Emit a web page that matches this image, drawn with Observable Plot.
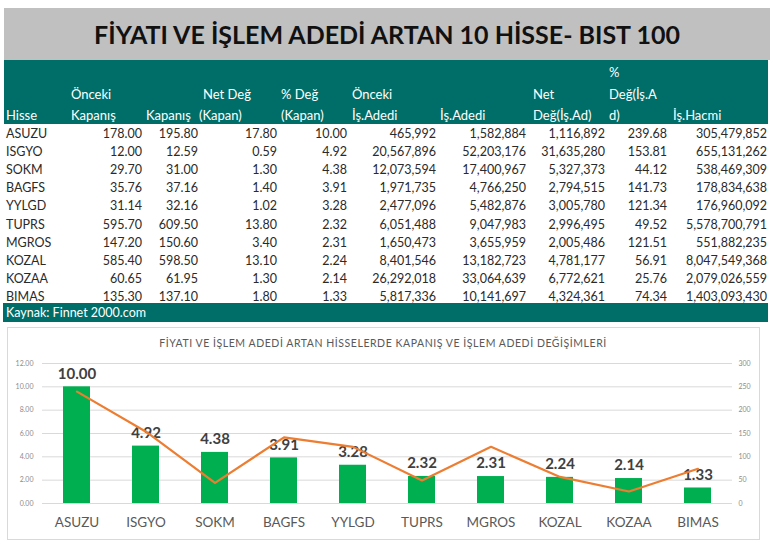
<!DOCTYPE html>
<html><head><meta charset="utf-8">
<script src="https://cdn.jsdelivr.net/npm/d3@7"></script>
<script src="https://cdn.jsdelivr.net/npm/@observablehq/plot@0.6"></script>
<style>
html,body{margin:0;padding:0;background:#fff;}
#wrap{position:relative;width:773px;height:547px;overflow:hidden;font-family:Lato,"Open Sans",sans-serif;}
.abs{position:absolute;white-space:nowrap;}
</style></head>
<body><div id="wrap"></div>
<script>
const hisse = ["ASUZU","ISGYO","SOKM","BAGFS","YYLGD","TUPRS","MGROS","KOZAL","KOZAA","BIMAS"];
const oncekiKapanis = ["178.00","12.00","29.70","35.76","31.14","595.70","147.20","585.40","60.65","135.30"];
const kapanis = ["195.80","12.59","31.00","37.16","32.16","609.50","150.60","598.50","61.95","137.10"];
const netDegKapan = ["17.80","0.59","1.30","1.40","1.02","13.80","3.40","13.10","1.30","1.80"];
const degKapan = [10.00,4.92,4.38,3.91,3.28,2.32,2.31,2.24,2.14,1.33];
const oncekiIsAdedi = ["465,992","20,567,896","12,073,594","1,971,735","2,477,096","6,051,488","1,650,473","8,401,546","26,292,018","5,817,336"];
const isAdedi = ["1,582,884","52,203,176","17,400,967","4,766,250","5,482,876","9,047,983","3,655,959","13,182,723","33,064,639","10,141,697"];
const netDegIsAd = ["1,116,892","31,635,280","5,327,373","2,794,515","3,005,780","2,996,495","2,005,486","4,781,177","6,772,621","4,324,361"];
const degIsAd = [239.68,153.81,44.12,141.73,121.34,49.52,121.51,56.91,25.76,74.34];
const isHacmi = ["305,479,852","655,131,262","538,469,309","178,834,638","176,960,092","5,578,700,791","551,882,235","8,047,549,368","2,079,026,559","1,403,093,430"];
const rightAxisTicks = [0,50,100,150,200,250,300];
const leftAxisTicks = [0,2,4,6,8,10,12];

const title = "FİYATI VE İŞLEM ADEDİ ARTAN 10 HİSSE- BIST 100";
const chartTitle = "FİYATI VE İŞLEM ADEDİ ARTAN HİSSELERDE KAPANIŞ VE İŞLEM ADEDİ DEĞİŞİMLERİ";
const source = "Kaynak: Finnet 2000.com";
// header lines: [text, left x, line index]
const headers = [
  ["Hisse",6,2],["Önceki",71,1],["Kapanış",71,2],["Kapanış",146,2],
  ["Net Değ",203,1],["(Kapan)",199,2],["% Değ",281,1],["(Kapan)",281,2],
  ["Önceki",352,1],["İş.Adedi",352,2],["İş.Adedi",440,2],
  ["Net",533,1],["Değ(İş.Ad)",533,2],["%",609,0],["Değ(İş.A",609,1],["d)",609,2],["İş.Hacmi",673,2]
];

const wrap = document.getElementById("wrap");
function box(css, text, cls="abs"){
  const d = document.createElement("div"); d.className = cls;
  Object.assign(d.style, css); if (text!=null) d.textContent = text; wrap.appendChild(d); return d;
}
// banner
box({left:"4px",top:"8px",width:"766px",height:"52px",background:"#c0c0c0"});
box({left:"4px",top:"8px",width:"766px",height:"52px",lineHeight:"52px",textAlign:"center",fontWeight:"bold",fontSize:"25px",color:"#111"}, title);
// header
box({left:"4px",top:"60px",width:"764px",height:"64px",background:"#006e68"});
const lineY = [63,85,106];
headers.forEach(([t,x,l])=>box({left:x+"px",top:lineY[l]+"px",fontSize:"13px",lineHeight:"18px",color:"#fff"}, t));
// body
const cols = [oncekiKapanis,kapanis,netDegKapan,degKapan.map(d=>d.toFixed(2)),oncekiIsAdedi,isAdedi,netDegIsAd,degIsAd.map(d=>d.toFixed(2)),isHacmi];
const rightEdges = [142,198,277,347,436,526,605,667,767];
hisse.forEach((h,i)=>{
  const top = 125 + i*18.1;
  box({left:"6px",top:top+"px",fontSize:"12.5px",lineHeight:"18px",color:"#2a2a2a"}, h);
  cols.forEach((c,j)=>box({right:(773-rightEdges[j])+"px",top:top+"px",fontSize:"12.5px",lineHeight:"18px",color:"#2a2a2a",textAlign:"right"}, c[i]));
});
// source bar
box({left:"3px",top:"303px",width:"765px",height:"19px",background:"#006e68"});
box({left:"6px",top:"303px",fontSize:"12.5px",lineHeight:"19px",color:"#fff"}, source);
// chart panel
box({left:"7px",top:"327px",width:"751px",height:"211px",border:"1px solid #d9d9d9",background:"#fff"});
box({left:"7px",top:"336px",width:"752px",textAlign:"center",fontSize:"10.5px",lineHeight:"14px",color:"#595959",letterSpacing:"0.55px"}, chartTitle);

const data = hisse.map((h,i)=>({hisse:h, kapan:degKapan[i], islem:degIsAd[i]}));
const chart = Plot.plot({
  width:752, height:212, marginTop:36, marginBottom:36, marginLeft:35, marginRight:27,
  style:{fontFamily:"Lato, sans-serif", background:"transparent", overflow:"visible"},
  x:{domain:hisse, paddingInner:0.61, paddingOuter:0.305},
  y:{domain:[0,12]},
  marks:[
    Plot.gridY(leftAxisTicks, {stroke:"#d9d9d9", strokeOpacity:1, strokeWidth:1}),
    Plot.barY(data, {x:"hisse", y:"kapan", fill:"#00b050"}),
    Plot.text(data, {x:"hisse", y:"kapan", text:d=>d.kapan.toFixed(2), dy:-13, fontWeight:"bold", fontSize:15, fill:"#404040"}),
    Plot.line(data, {x:"hisse", y:d=>d.islem/25, stroke:"#ed7d31", strokeWidth:2.2, strokeLinejoin:"round"}),
    Plot.axisX({tickSize:0, tickPadding:14, fontSize:13.5, fill:"#595959", label:null}),
    Plot.axisY(leftAxisTicks, {anchor:"left", tickSize:0, tickPadding:9, fontSize:7, fill:"#8c8c8c", tickFormat:d=>d.toFixed(2), label:null}),
    Plot.axisY(rightAxisTicks.map(v=>v/25), {anchor:"right", tickSize:0, tickPadding:6, fontSize:7, fill:"#8c8c8c", tickFormat:d=>String(Math.round(d*25)), label:null})
  ]
});
chart.style.position = "absolute"; chart.style.left = "7px"; chart.style.top = "327px";
wrap.appendChild(chart);
</script></body></html>
